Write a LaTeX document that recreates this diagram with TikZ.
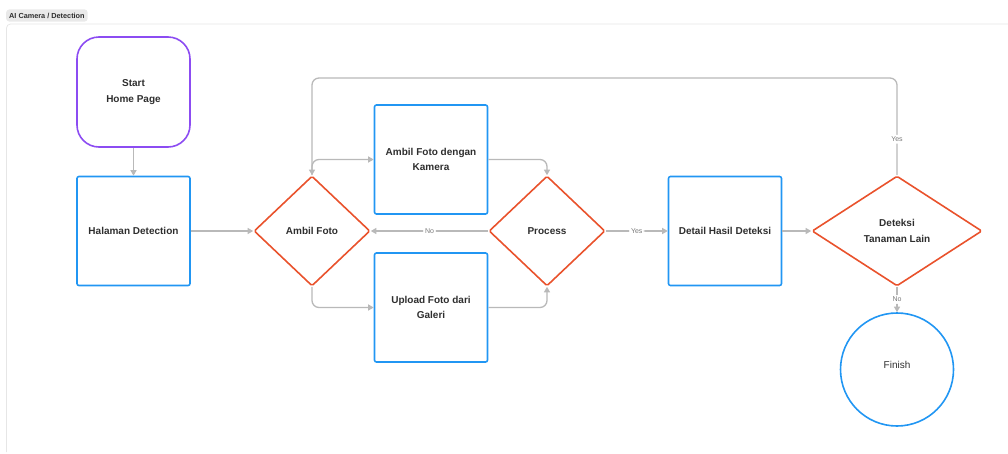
\documentclass[tikz,border=0pt]{standalone}
\usepackage{fontspec}
\setmainfont{Liberation Sans}
\usetikzlibrary{shapes.geometric,arrows.meta}
\definecolor{flowblue}{HTML}{2196F3}
\definecolor{flowred}{HTML}{E9522C}
\definecolor{flowpurple}{HTML}{8C4CF2}
\definecolor{linkgray}{HTML}{B9B9B9}
\definecolor{inktext}{HTML}{2E2E2E}
\definecolor{lbltext}{HTML}{7A7A7A}
\definecolor{panelline}{HTML}{E6E6E6}
\definecolor{tabfill}{HTML}{E9E9E9}
\tikzset{
  base/.style={line width=1.6pt, align=center, text=inktext,
    font=\fontsize{10}{15.5}\selectfont\bfseries, inner sep=0pt},
  startbox/.style={base, draw=flowpurple, rounded corners=22pt,
    minimum width=113pt, minimum height=110pt},
  stepbox/.style={base, draw=flowblue, rounded corners=2pt,
    minimum width=113pt, minimum height=109pt},
  decision/.style={base, draw=flowred, diamond, line join=round,
    rounded corners=1.5pt, minimum width=116pt, minimum height=110pt},
  bigdecision/.style={decision, minimum width=170pt},
  endcircle/.style={base, draw=flowblue, circle, minimum size=113pt,
    font=\fontsize{10}{12}\selectfont},
  conn/.style={draw=linkgray, line width=1.3pt,
    -{Triangle[length=5.5pt,width=6pt]}, rounded corners=7pt},
  lbl/.style={fill=white, text=lbltext, inner sep=2pt,
    font=\fontsize{7}{8}\selectfont}
}
\begin{document}
\begin{tikzpicture}[x=1pt,y=-1pt]
\useasboundingbox (0,0) rectangle (1008,453);
% panel and tab
\draw[panelline, line width=0.8pt, rounded corners=4pt] (6.5,452) -- (6.5,24) -- (1030,24);
\node[fill=tabfill, rounded corners=3pt, inner xsep=3pt, minimum height=12pt,
      anchor=west, text=inktext, font=\fontsize{7.3}{8}\selectfont\bfseries]
  (tab) at (6,15.5) {AI Camera / Detection};

% nodes
\node[startbox] (start) at (133.5,92) {Start\\Home Page};
\node[stepbox] (halaman) at (133.5,231) {Halaman Detection};
\node[decision] (ambil) at (312,231) {Ambil Foto};
\node[stepbox] (kamera) at (431,159.5) {Ambil Foto dengan\\Kamera};
\node[stepbox] (upload) at (431,307.5) {Upload Foto dari\\Galeri};
\node[decision] (process) at (547,231) {Process};
\node[stepbox] (detail) at (725,231) {Detail Hasil Deteksi};
\node[bigdecision] (deteksi) at (897,231) {Deteksi\\Tanaman Lain};
\node[endcircle] (finish) at (897,369.5) {\raisebox{9pt}{Finish}};
\coordinate (looptop) at (600,78);

% connectors
\draw[conn] (start) -- (halaman);
\draw[conn] (halaman) -- (ambil);
\draw[conn] (ambil.north) |- (kamera.west);
\draw[conn] (ambil.south) |- (upload.west);
\draw[conn] (kamera.east) -| (process.north);
\draw[conn] (upload.east) -| (process.south);
\draw[conn] (process.west) -- node[lbl]{No} (ambil.east);
\draw[conn] (process.east) -- node[lbl]{Yes} (detail.west);
\draw[conn] (detail.east) -- (deteksi.west);
\draw[conn] (deteksi.north) -- node[lbl,pos=0.37]{Yes} (deteksi.north |- looptop)
   -- (ambil.north |- looptop) -- (ambil.north);
\draw[conn] (deteksi.south) -- node[lbl]{No} (finish.north);
\end{tikzpicture}
\end{document}
